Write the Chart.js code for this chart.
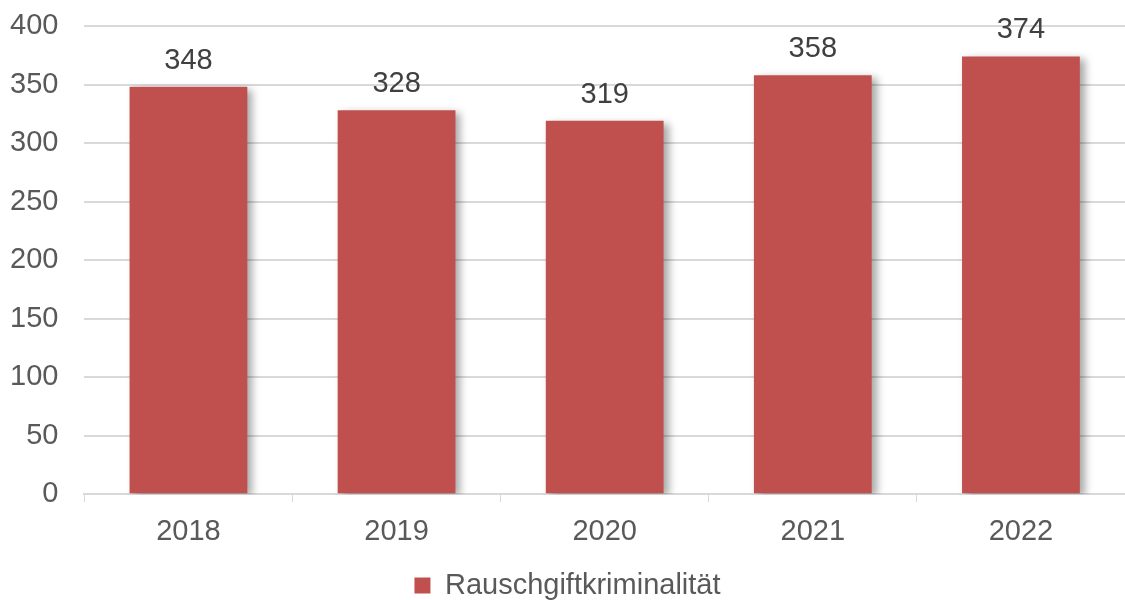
<!DOCTYPE html>
<html lang="de">
<head>
  <meta charset="UTF-8">
  <title>Rauschgiftkriminalität</title>
  <script src="https://cdn.jsdelivr.net/npm/chart.js"></script>
  <style>
    html, body { margin: 0; padding: 0; background: #fff; }
    #wrap { width: 1125px; height: 600px; }
  </style>
</head>
<body>
  <div id="wrap"><canvas id="chart" width="1125" height="600"></canvas></div>
  <script>
    const years = ['2018', '2019', '2020', '2021', '2022'];
    const cases = [348, 328, 319, 358, 374];
    const seriesName = 'Rauschgiftkriminalität';

    const fontFamily = '"Liberation Sans", Arial, sans-serif';

    // Schatten für die Balken
    const barShadow = {
      id: 'barShadow',
      beforeDatasetsDraw(chart) {
        const ctx = chart.ctx;
        ctx.save();
        ctx.shadowColor = 'rgba(0,0,0,0.35)';
        ctx.shadowBlur = 8;
        ctx.shadowOffsetX = 5;
        ctx.shadowOffsetY = 3;
      },
      afterDatasetsDraw(chart) {
        chart.ctx.restore();
      }
    };

    // Werte über den Balken
    const valueLabels = {
      id: 'valueLabels',
      afterDatasetsDraw(chart) {
        const ctx = chart.ctx;
        const meta = chart.getDatasetMeta(0);
        ctx.save();
        ctx.font = '29px ' + fontFamily;
        ctx.fillStyle = '#404040';
        ctx.textAlign = 'center';
        ctx.textBaseline = 'alphabetic';
        meta.data.forEach((bar, i) => {
          ctx.fillText(String(chart.data.datasets[0].data[i]), bar.x, bar.y - 18);
        });
        ctx.restore();
      }
    };

    new Chart(document.getElementById('chart'), {
      type: 'bar',
      data: {
        labels: years,
        datasets: [{
          label: seriesName,
          data: cases,
          backgroundColor: '#C0504D',
          borderWidth: 0,
          categoryPercentage: 1,
          barPercentage: 0.566
        }]
      },
      options: {
        responsive: false,
        animation: false,
        layout: { padding: { left: 10, right: 0, top: 26, bottom: -10 } },
        plugins: {
          legend: {
            position: 'bottom',
            labels: {
              boxWidth: 16,
              boxHeight: 16,
              padding: 10,
              color: '#595959',
              font: { family: fontFamily, size: 29 }
            }
          },
          tooltip: { enabled: false }
        },
        scales: {
          x: {
            grid: {
              offset: true,
              drawOnChartArea: false,
              drawTicks: true,
              tickLength: 8,
              color: '#d9d9d9'
            },
            border: { color: '#d9d9d9', width: 2 },
            ticks: {
              color: '#595959',
              padding: 12,
              font: { family: fontFamily, size: 29 }
            }
          },
          y: {
            min: 0,
            max: 400,
            ticks: {
              stepSize: 50,
              padding: 0,
              color: '#595959',
              font: { family: fontFamily, size: 29 }
            },
            grid: {
              color: '#d9d9d9',
              lineWidth: 2,
              drawTicks: true,
              tickLength: 26,
              tickColor: 'rgba(0,0,0,0)'
            },
            border: { display: false }
          }
        }
      },
      plugins: [barShadow, valueLabels]
    });
  </script>
</body>
</html>
